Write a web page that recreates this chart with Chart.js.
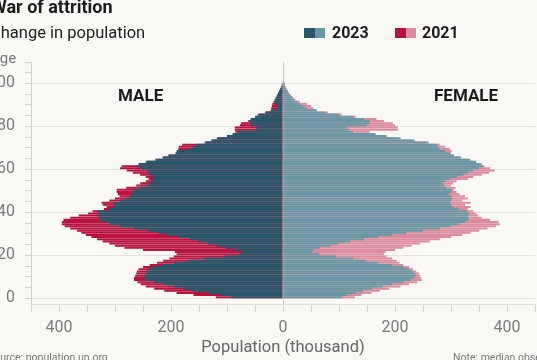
<!DOCTYPE html>
<html><head><meta charset="utf-8">
<script src="https://cdn.jsdelivr.net/npm/chart.js@4/dist/chart.umd.min.js"></script>
<style>
html,body{margin:0;padding:0;background:#faf9f5;overflow:hidden;}
#wrap{position:relative;width:537px;height:360px;overflow:hidden;font-family:Roboto,sans-serif;background:#faf9f5;}
#c{position:absolute;left:0;top:0;width:537px;height:360px;}
.t{position:absolute;white-space:nowrap;line-height:1;}
.sw{position:absolute;width:21px;height:10px;}
.sw span{display:inline-block;width:50%;height:100%;vertical-align:top;}
</style></head><body>
<div id="wrap">
<canvas id="c" width="537" height="360"></canvas>
<div class="t" style="left:-9px;top:-2px;font-size:18px;font-weight:700;color:#1b1b1b">War of attrition</div>
<div class="t" style="left:-10px;top:25px;font-size:16.5px;color:#222">Change in population</div>
<div class="t" style="left:-10px;top:51px;font-size:15px;color:#777">Age</div>
<div class="sw" style="left:304px;top:28px"><span style="background:#235769"></span><span style="background:#6a97a4"></span></div>
<div class="t" style="left:332px;top:25px;font-size:16px;font-weight:700;color:#1b1b1b">2023</div>
<div class="sw" style="left:395px;top:28px"><span style="background:#b8123e"></span><span style="background:#dd8ba0"></span></div>
<div class="t" style="left:422px;top:25px;font-size:16px;font-weight:700;color:#1b1b1b">2021</div>
<div class="t" style="left:118px;top:87px;font-size:17px;font-weight:700;color:#1b1b1b">MALE</div>
<div class="t" style="left:434px;top:87px;font-size:17px;font-weight:700;color:#1b1b1b">FEMALE</div>
<div class="t" style="left:-12px;top:353px;font-size:10.5px;color:#777">Source: population.un.org</div>
<div class="t" style="left:453px;top:353px;font-size:10.5px;color:#777">Note: median observed estimates</div>
</div>
<script>
const ages = Array.from({length: 101}, (_, i) => i);
const male2023 = [92,110,135,160,178,195,212,230,245,250,248,245,243,240,232,215,195,170,140,105,78,72,85,102,118,134,150,166,185,205,222,240,265,290,309,318,327,329,330,332,330,310,303,303,303,290,280,273,270,268,267,255,243,238,235,232,233,237,240,243,255,262,258,245,228,215,205,192,190,168,160,154,140,128,118,100,90,80,48,47,57,59,59,58,50,45,32,20,11,10,12,17,15,13,11,9,7,5,3,2,1];
const male2021 = [120,160,190,212,230,245,254,260,266,266,264,262,261,258,250,238,225,214,203,195,190,193,250,283,300,310,322,332,342,352,360,368,380,390,395,395,392,380,365,348,340,320,315,322,324,310,300,292,295,297,297,280,262,255,245,240,245,255,268,279,291,288,255,243,226,213,203,190,188,187,186,180,138,126,116,98,88,85,86,86,77,75,62,56,48,42,30,22,21,20,19,15,13,11,9,7,5,4,3,2,1];
const female2023 = [105,115,130,143,160,178,195,215,228,233,238,236,232,225,215,195,170,148,125,95,65,52,55,66,85,100,120,145,170,195,220,250,280,300,315,325,330,332,330,333,328,315,305,300,298,300,302,300,295,300,302,292,288,286,290,298,310,322,330,340,350,357,352,345,334,318,305,298,290,280,277,275,260,235,210,185,165,125,118,114,150,155,155,145,125,100,75,60,42,36,30,25,20,16,13,10,8,6,4,3,2];
const female2021 = [128,140,158,173,190,210,225,240,248,246,245,243,238,232,225,215,208,203,195,185,180,183,200,215,230,245,262,280,300,320,335,350,365,380,387,385,370,355,348,345,340,330,335,325,335,320,330,325,315,310,305,308,300,304,310,330,340,355,368,378,370,360,355,340,330,315,305,300,301,298,290,280,255,230,200,180,165,155,205,205,200,196,180,167,130,105,80,60,54,50,43,30,22,18,14,11,9,6,4,3,2];
const yTicks = [0,5,10,15,20,25,30,35,40,45,50,55,60,65,70,75,80,85,90,95,100,105,110];
const xTicks = [-450,-400,-350,-300,-250,-200,-150,-100,-50,0,50,100,150,200,250,300,350,400,450];
const yLabelled = [0,20,40,60,80,100];
const xLabelled = [-400,-200,0,200,400];

const pts = (arr, sign) => arr.map((v, i) => ({x: sign * v, y: ages[i] + 0.5}));
const common = {grouped: false, barPercentage: 0.95, categoryPercentage: 1, borderWidth: 0};

new Chart(document.getElementById('c'), {
  type: 'bar',
  data: {
    datasets: [
      Object.assign({label: 'Male 2023', data: pts(male2023, -1), backgroundColor: '#235769', order: 0}, common),
      Object.assign({label: 'Female 2023', data: pts(female2023, 1), backgroundColor: '#6a97a4', order: 0}, common),
      Object.assign({label: 'Male 2021', data: pts(male2021, -1), backgroundColor: '#b8123e', order: 1}, common),
      Object.assign({label: 'Female 2021', data: pts(female2021, 1), backgroundColor: '#dd8ba0', order: 1}, common)
    ]
  },
  options: {
    indexAxis: 'y',
    responsive: false,
    animation: false,
    layout: {padding: {top: 62, right: 2, left: 0, bottom: 0}},
    plugins: {legend: {display: false}, tooltip: {enabled: false}, title: {display: false}},
    scales: {
      x: {
        type: 'linear', min: -450, max: 450, z: 1,
        afterBuildTicks: a => { a.ticks = xTicks.map(v => ({value: v})); },
        afterFit: s => { s.height = 56; s.paddingLeft = 0; s.paddingRight = 0; },
        border: {display: true, color: '#dcdcdc'},
        grid: {
          drawOnChartArea: true, tickLength: 8,
          color: c => (c.tick && c.tick.value === 0) ? '#c8c8c8' : 'rgba(0,0,0,0)',
          tickColor: '#d2d2d2'
        },
        ticks: {
          autoSkip: false, maxRotation: 0, padding: 6, color: '#7a7a7a',
          font: {family: 'Roboto', size: 16},
          callback: v => xLabelled.includes(v) ? String(Math.abs(v)) : ''
        },
        title: {display: true, text: 'Population (thousand)', color: '#666', font: {family: 'Roboto', size: 16.5}, padding: {top: 0, bottom: 2}}
      },
      y: {
        type: 'linear', min: -2.66, max: 110, z: 1, offset: false,
        afterBuildTicks: a => { a.ticks = yTicks.map(v => ({value: v})); },
        afterFit: s => { s.width = 31; s.paddingTop = 0; s.paddingBottom = 0; },
        border: {display: true, color: '#d0d0d0'},
        grid: {
          offset: false, tickLength: 6,
          color: c => (c.tick && yLabelled.includes(c.tick.value)) ? 'rgba(222,222,218,0.85)' : 'rgba(0,0,0,0)',
          tickColor: '#d0d0d0'
        },
        ticks: {
          autoSkip: false, padding: 10, color: '#7a7a7a',
          font: {family: 'Roboto', size: 16},
          callback: v => yLabelled.includes(v) ? String(v) : ''
        }
      }
    }
  }
});
</script>
</body></html>
